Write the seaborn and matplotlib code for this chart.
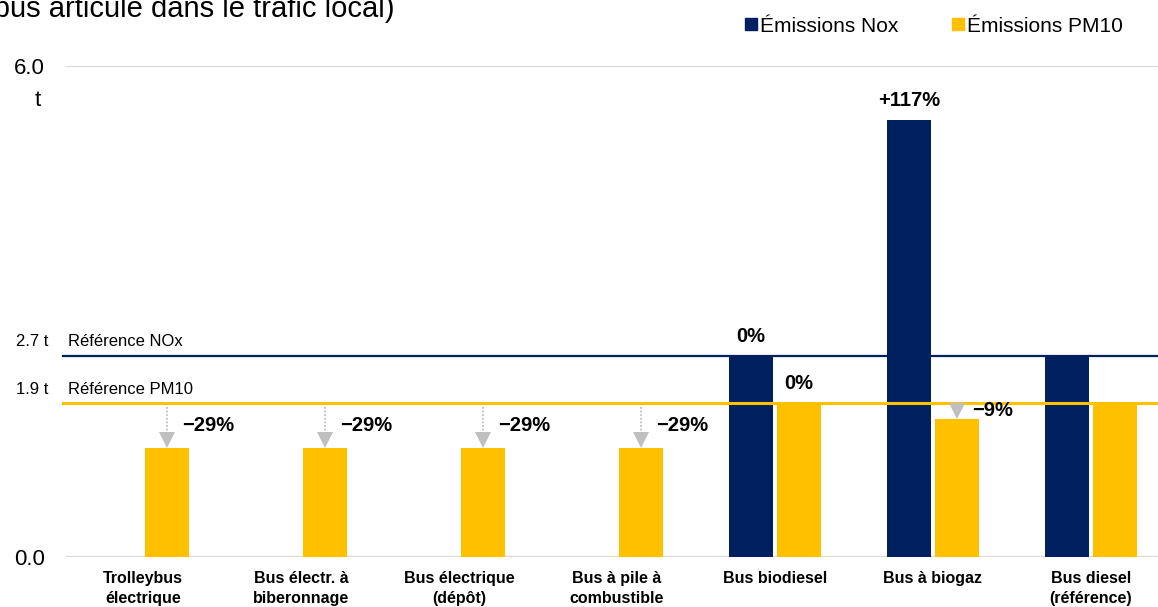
import pandas as pd
import numpy as np
import seaborn as sns
import matplotlib.pyplot as plt
from matplotlib.patches import Patch

# values (axis units, 0 .. 6.0)
categories = ["Trolleybus\nélectrique", "Bus électr. à\nbiberonnage", "Bus électrique\n(dépôt)",
              "Bus à pile à\ncombustible", "Bus biodiesel", "Bus à biogaz", "Bus diesel\n(référence)"]
nox = [0, 0, 0, 0, 2.46, 5.34, 2.46]
pm10 = [1.33, 1.33, 1.33, 1.33, 1.88, 1.69, 1.88]
nox_ref = 2.46
pm10_ref = 1.88
nox_ref_label = "2.7 t"
pm10_ref_label = "1.9 t"
nox_pct = [None, None, None, None, "0%", "+117%", None]
pm10_pct = ["\u221229%", "\u221229%", "\u221229%", "\u221229%", "0%", "\u22129%", None]
series = ["Émissions Nox", "Émissions PM10"]

NAVY = "#002060"
YELLOW = "#FFC000"
GREY = "#BFBFBF"

plt.rcParams["font.family"] = ["Liberation Sans", "DejaVu Sans"]

df = pd.DataFrame({
    "cat": categories * 2,
    "serie": [series[0]] * len(categories) + [series[1]] * len(categories),
    "val": nox + pm10,
})

fig = plt.figure(figsize=(11.58, 6.07), dpi=100)
ax = fig.add_axes([66 / 1158, 50 / 607, 1 - 66 / 1158, 491 / 607])

sns.barplot(data=df, x="cat", y="val", hue="serie", hue_order=series,
            palette=[NAVY, YELLOW], saturation=1, width=0.61, gap=0.1, linewidth=0,
            legend=False, ax=ax, zorder=2)

ax.set_xlim(-0.487, 6.424)
ax.set_ylim(0, 6.0)
ax.set_xlabel("")
ax.set_ylabel("")
for s in ax.spines.values():
    s.set_visible(False)
ax.grid(axis="y", color="#D9D9D9", lw=1.6, zorder=0)
ax.set_axisbelow(True)
ax.set_yticks([0, 6.0])
ax.set_yticklabels(["0.0", "6.0"], fontsize=16)
ax.tick_params(axis="y", length=0, pad=15)
ax.tick_params(axis="x", length=0, pad=10)
ax.set_xticks(range(len(categories)))
ax.set_xticklabels(categories, fontsize=11.5, fontweight="bold", linespacing=1.45)
ax.annotate("t", xy=(0, 6.0), xycoords=("axes fraction", "data"), xytext=(-18, -25),
            textcoords="offset points", ha="right", va="center", fontsize=16)

# reference lines
ax.axhline(nox_ref, xmin=-0.003, color=NAVY, lw=1.6, zorder=3, clip_on=False)
ax.axhline(pm10_ref, xmin=-0.003, color=YELLOW, lw=2.2, zorder=3, clip_on=False)
for yv, name, lab in [(nox_ref, "Référence NOx", nox_ref_label),
                      (pm10_ref, "Référence PM10", pm10_ref_label)]:
    ax.annotate(name, xy=(0, yv), xycoords=("axes fraction", "data"), xytext=(1.5, 10),
                textcoords="offset points", ha="left", va="center", fontsize=12)
    ax.annotate(lab, xy=(0, yv), xycoords=("axes fraction", "data"), xytext=(-13, 10),
                textcoords="offset points", ha="right", va="center", fontsize=12)

# bar annotations
nox_bars, pm_bars = ax.containers[0], ax.containers[1]
for bars, pcts, ref in [(nox_bars, nox_pct, nox_ref), (pm_bars, pm10_pct, pm10_ref)]:
    for b, p in zip(bars, pcts):
        if p is None:
            continue
        xc = b.get_x() + b.get_width() / 2
        h = b.get_height()
        if p.startswith("\u2212"):
            head = 0.196
            top = ref - 0.05
            tip = h
            if tip + head < top:
                ax.plot([xc, xc], [top, tip + head], color=GREY, lw=1.3, ls=(0, (1, 1)), zorder=4)
            ax.plot(xc, tip + head / 2, marker="v", ms=11.5, color=GREY, mew=0, zorder=4)
            ax.annotate(p, xy=(xc, (ref + h) / 2), xytext=(11, 0), textcoords="offset points",
                        ha="left", va="center", fontsize=14.5, fontweight="bold")
        else:
            ax.annotate(p, xy=(xc, h), xytext=(0, 7), textcoords="offset points",
                        ha="center", va="bottom", fontsize=14.5, fontweight="bold")

# legend
handles = [Patch(color=NAVY, label=series[0]), Patch(color=YELLOW, label=series[1])]
fig.legend(handles=handles, loc="center", bbox_to_anchor=(934 / 1158, 1 - 26 / 607), ncol=2,
           frameon=False, fontsize=15, handlelength=0.55, handleheight=0.55,
           handletextpad=0.15, columnspacing=2.6, borderaxespad=0)

# title (partly cut off at top of the picture, as in the source)
fig.text(395 / 1158, 1 - 17 / 607, "(bus articulé dans le trafic local)", ha="right",
         va="baseline", fontsize=21)

fig.savefig("out.png", dpi=100)
